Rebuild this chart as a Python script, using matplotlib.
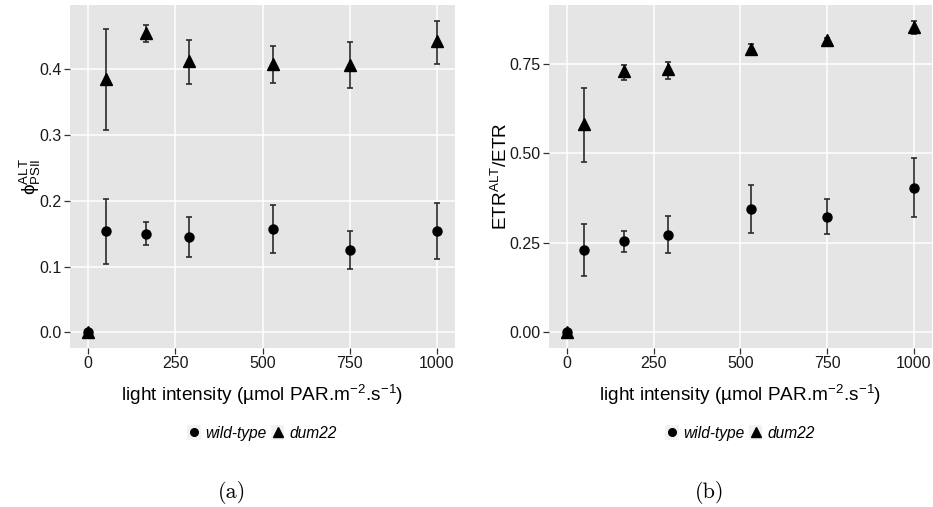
import numpy as np
import matplotlib
matplotlib.use("Agg")
import matplotlib.pyplot as plt
from matplotlib.lines import Line2D
from matplotlib.patches import Rectangle

plt.rcParams['font.family'] = ['Liberation Sans', 'DejaVu Sans']
plt.rcParams['mathtext.fontset'] = 'custom'
plt.rcParams['mathtext.rm'] = 'Liberation Sans'
plt.rcParams['mathtext.it'] = 'Liberation Sans:italic'

# light intensity (x)
light = [0, 50, 165, 290, 530, 750, 1000]

# (a) phi_PSII^ALT
wt_phi = [0.0, 0.154, 0.150, 0.145, 0.157, 0.126, 0.154]
wt_phi_lo = [0.0, 0.104, 0.133, 0.115, 0.120, 0.097, 0.112]
wt_phi_hi = [0.0, 0.203, 0.168, 0.176, 0.194, 0.154, 0.196]
dum_phi = [0.0, 0.385, 0.455, 0.413, 0.408, 0.407, 0.443]
dum_phi_lo = [0.0, 0.308, 0.441, 0.377, 0.379, 0.371, 0.408]
dum_phi_hi = [0.0, 0.461, 0.467, 0.445, 0.435, 0.442, 0.474]

# (b) ETR^ALT / ETR
wt_etr = [0.0, 0.230, 0.255, 0.273, 0.343, 0.323, 0.404]
wt_etr_lo = [0.0, 0.156, 0.225, 0.221, 0.276, 0.274, 0.321]
wt_etr_hi = [0.0, 0.302, 0.283, 0.324, 0.410, 0.371, 0.488]
dum_etr = [0.0, 0.581, 0.728, 0.734, 0.792, 0.817, 0.851]
dum_etr_lo = [0.0, 0.475, 0.704, 0.708, 0.778, 0.808, 0.832]
dum_etr_hi = [0.0, 0.682, 0.745, 0.755, 0.804, 0.822, 0.870]

W, H = 933, 507
fig = plt.figure(figsize=(W / 100, H / 100), dpi=100)


def px_axes(x0, x1, y0, y1):
    return fig.add_axes([x0 / W, 1 - y1 / H, (x1 - x0) / W, (y1 - y0) / H])


def panel(ax, wt, wt_lo, wt_hi, dm, dm_lo, dm_hi, yticks, ylabels, ylabel, lpad):
    ax.set_facecolor('#e5e5e5')
    for s in ax.spines.values():
        s.set_visible(False)
    ax.grid(True, color='white', lw=1.1)
    ax.set_axisbelow(True)
    for y, lo, hi, m, ms in [(wt, wt_lo, wt_hi, 'o', 6.5), (dm, dm_lo, dm_hi, '^', 8.5)]:
        y = np.array(y)
        err = [y - np.array(lo), np.array(hi) - y]
        ax.errorbar(light, y, yerr=err, fmt='none', ecolor='#2b2b2b',
                    elinewidth=1.2, capsize=2.5, capthick=1.2)
        ax.plot(light, y, ls='none', marker=m, ms=ms, color='black')
    top = max(dm_hi)
    pad = top * 0.05
    ax.set_ylim(-pad, top + pad)
    ax.set_xlim(-52, 1052)
    ax.set_xticks([0, 250, 500, 750, 1000])
    ax.set_yticks(yticks)
    ax.set_yticklabels(ylabels)
    ax.tick_params(colors='#333333', labelcolor='#1a1a1a', labelsize=11.5,
                   length=4, width=0.9, pad=2)
    ax.set_xlabel(r'light intensity (µmol PAR.m$^{-2}$.s$^{-1}$)', fontsize=13.7,
                  labelpad=8)
    ax.set_ylabel(ylabel, fontsize=13.7, labelpad=lpad)


ax1 = px_axes(70, 455, 5, 348)
panel(ax1, wt_phi, wt_phi_lo, wt_phi_hi, dum_phi, dum_phi_lo, dum_phi_hi,
      [0, 0.1, 0.2, 0.3, 0.4], ['0.0', '0.1', '0.2', '0.3', '0.4'],
      r'$\mathrm{\phi}_{\mathrm{PSII}}^{\mathrm{ALT}}$', -3)

ax2 = px_axes(549, 932, 5, 348)
panel(ax2, wt_etr, wt_etr_lo, wt_etr_hi, dum_etr, dum_etr_lo, dum_etr_hi,
      [0, 0.25, 0.5, 0.75], ['0.00', '0.25', '0.50', '0.75'],
      r'ETR$^{\mathrm{ALT}}$/ETR', -1)


def legend_at(xc):
    handles = []
    for m, ms in [('o', 5.5), ('^', 7)]:
        bg = Rectangle((0, 0), 1, 1, facecolor='#f2f2f2', edgecolor='none')
        mk = Line2D([], [], ls='none', marker=m, ms=ms, color='black')
        handles.append((bg, mk))
    fig.legend(handles, ['wild-type', 'dum22'], loc='center',
               bbox_to_anchor=(xc / W, 1 - 433 / H), ncol=2, frameon=False,
               handlelength=0.85, handleheight=1.1, handletextpad=0.3,
               columnspacing=0.3, prop={'style': 'italic', 'size': 11.2})


legend_at(262)
legend_at(740)

fig.text(232 / W, 1 - 492 / H, '(a)', ha='center', va='center',
         fontsize=16, family='cmr10')
fig.text(710 / W, 1 - 492 / H, '(b)', ha='center', va='center',
         fontsize=16, family='cmr10')

fig.savefig('out.png', dpi=100)
